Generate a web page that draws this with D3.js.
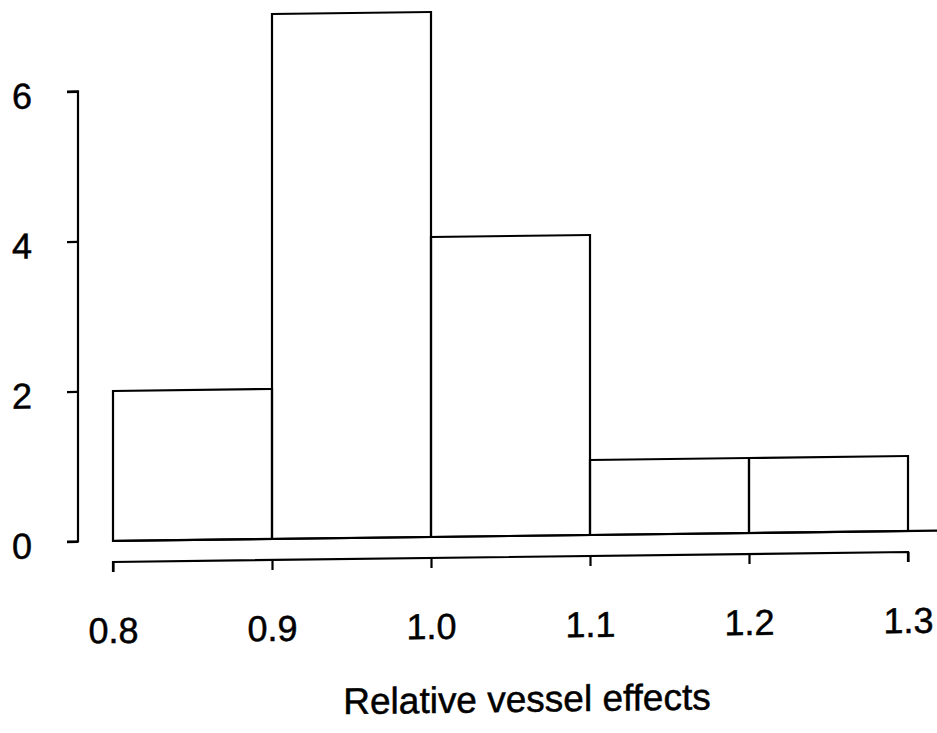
<!DOCTYPE html>
<html>
<head>
<meta charset="utf-8">
<script src="https://cdn.jsdelivr.net/npm/d3@7"></script>
<style>
  body { margin: 0; background: #fff; }
  svg text { font-family: "Liberation Sans", Arial, sans-serif; fill: #000; stroke: #000; stroke-width: 0.5px; }
</style>
</head>
<body>
<div id="chart"></div>
<script>
// histogram bins and counts
const binEdges = [0.8, 0.9, 1.0, 1.1, 1.2, 1.3];
const counts = [2, 7, 4, 1, 1];
const xTicks = [0.8, 0.9, 1.0, 1.1, 1.2, 1.3];
const yTicks = [0, 2, 4, 6];
const xLabel = "Relative vessel effects";

const W = 937, H = 733;

const svg = d3.select("#chart")
    .append("svg")
    .attr("width", W)
    .attr("height", H);

// the scan is slightly tilted, skew the whole plot a bit
const g = svg.append("g")
    .attr("transform", "translate(112,541) skewY(-0.72) translate(-112,-541)");

const x = d3.scaleLinear().domain([0.8, 1.3]).range([113, 908]);
const y = d3.scaleLinear().domain([0, 6]).range([541, 91]);

const bins = counts.map((c, i) => ({ x0: binEdges[i], x1: binEdges[i + 1], n: c }));

// bars
g.selectAll("rect.bar")
    .data(bins)
    .enter().append("rect")
    .attr("class", "bar")
    .attr("x", d => x(d.x0))
    .attr("y", d => y(d.n))
    .attr("width", d => x(d.x1) - x(d.x0))
    .attr("height", d => y(0) - y(d.n))
    .attr("fill", "none")
    .attr("stroke", "#000")
    .attr("stroke-width", 2.2);

// baseline running out to the right edge
g.append("line")
    .attr("x1", x(0.8)).attr("x2", W + 10)
    .attr("y1", y(0)).attr("y2", y(0))
    .attr("stroke", "#000").attr("stroke-width", 2.2);

// y axis
const yAxis = g.append("g")
    .attr("transform", "translate(78,0)")
    .call(d3.axisLeft(y).tickValues(yTicks).tickSize(11).tickPadding(0).tickFormat(d3.format("d")));
yAxis.select(".domain").attr("d", `M-11,${y(6)}H0V${y(0)}H-11`);
yAxis.selectAll("line, path").attr("stroke", "#000").attr("stroke-width", 2.2);
yAxis.selectAll("text")
    .attr("x", -56)
    .attr("dy", null)
    .attr("y", 16)
    .attr("text-anchor", "middle")
    .style("font-size", "36px");

// x axis
const xAxis = g.append("g")
    .attr("transform", "translate(0,562)")
    .call(d3.axisBottom(x).tickValues(xTicks).tickSize(10).tickPadding(0).tickFormat(d3.format(".1f")));
xAxis.select(".domain").attr("d", `M${x(0.8)},10V0H${x(1.3)}V10`);
xAxis.selectAll("line, path").attr("stroke", "#000").attr("stroke-width", 2.2);
xAxis.selectAll("text")
    .attr("dy", null)
    .attr("y", 81)
    .style("font-size", "36px");

// axis title
g.append("text")
    .attr("x", 527)
    .attr("y", 717)
    .attr("text-anchor", "middle")
    .style("font-size", "37px")
    .text(xLabel);
</script>
</body>
</html>
